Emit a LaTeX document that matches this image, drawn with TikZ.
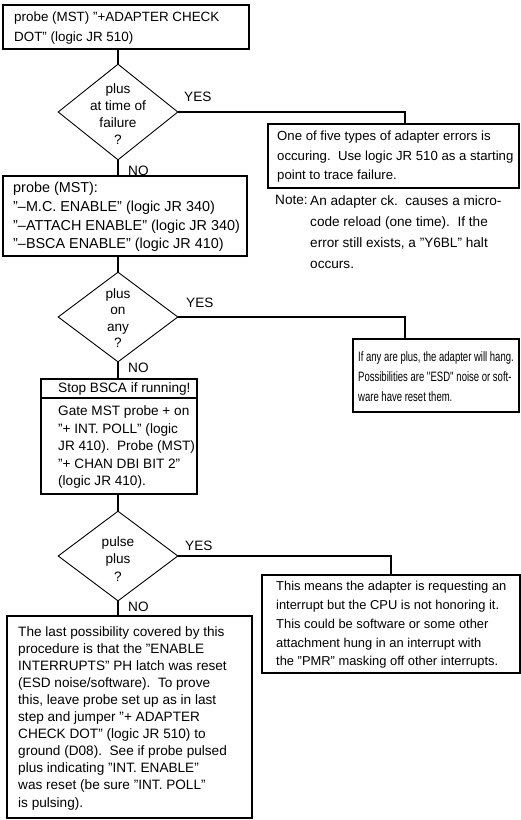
\documentclass[tikz,border=0pt]{standalone}
\usepackage{fontspec}
\setmainfont{Liberation Sans}
\newfontfamily\narrowsans[FakeStretch=0.7]{Liberation Sans}
\usetikzlibrary{shapes.geometric}
\begin{document}
\begin{tikzpicture}[x=1pt,y=-1pt,
  box/.style={draw, line width=1.3pt, inner sep=0pt},
  test/.style={diamond, draw, line width=0.9pt, inner sep=0pt},
  txt/.style={anchor=west, align=left, inner sep=0pt, font=\fontsize{13.6}{19.5}\selectfont},
  dtext/.style={align=center, inner sep=0pt, font=\fontsize{13.6}{17}\selectfont},
  lbl/.style={anchor=west, inner sep=0pt, font=\fontsize{13.6}{16}\selectfont},
  conn/.style={line width=2.8pt},
  yesline/.style={line width=2.2pt}]
\useasboundingbox[fill=white] (0,0) rectangle (521,820);

% first probe step
\node[box, minimum width=246pt, minimum height=44pt] (b1) at (126,27) {};
\node[txt, font=\fontsize{13.4}{19.5}\selectfont] (t1) at (14,28) {probe (MST) ''+ADAPTER CHECK\\DOT'' (logic JR 510)};

% decision 1
\node[test, minimum width=120pt, minimum height=96pt] (d1) at (118,112) {};
\node[dtext] (q1) at (118,114) {plus\\at time of\\failure\\?};
\draw[conn] (d1.north |- b1.south) -- (d1.north);
\node[lbl] (yes1) at (184,97) {YES};

% adapter error result and note
\node[box, minimum width=251pt, minimum height=64pt] (b3) at (393.5,156) {};
\node[txt, font=\fontsize{13.2}{19.5}\selectfont] (t3) at (277,157) {One of five types of adapter errors is\\occuring.\ \ Use logic JR 510 as a starting\\point to trace failure.};
\draw[yesline] (d1.east) -| ([xshift=11.5pt]b3.north);
\node[anchor=north west, inner sep=0pt, font=\fontsize{13.6}{21}\selectfont] (nl) at (275,195) {Note:};
\node[anchor=north west, align=left, inner sep=0pt, font=\fontsize{13.6}{21}\selectfont] (nb) at (310,195)
  {An adapter ck.\ \ causes a micro-\\code reload (one time).\ \ If the\\error still exists, a ''Y6BL'' halt\\occurs.};

% second probe step
\node[lbl] (no1) at (128,171) {NO};
\node[box, minimum width=244pt, minimum height=80pt] (b2) at (125,216) {};
\node[txt, font=\fontsize{14.4}{18.8}\selectfont] (t2) at (13,217) {probe (MST):\\''--M.C. ENABLE'' (logic JR 340)\\''--ATTACH ENABLE'' (logic JR 340)\\''--BSCA ENABLE'' (logic JR 410)};
\draw[conn] (d1.south) -- (d1.south |- b2.north);

% decision 2
\node[test, minimum width=120pt, minimum height=90pt] (d2) at (118,317) {};
\node[dtext, font=\fontsize{13.6}{16.5}\selectfont] (q2) at (118,318) {plus\\on\\any\\?};
\draw[conn] (d2.north |- b2.south) -- (d2.north);
\node[lbl] (yes2) at (186,303) {YES};

% hang result
\node[box, minimum width=166pt, minimum height=73pt] (b4) at (436,375.5) {};
\node[txt, font=\narrowsans\fontsize{13.6}{20}\selectfont] (t4) at (358,377) {If any are plus, the adapter will hang.\\Possibilities are ''ESD'' noise or soft-\\ware have reset them.};
\draw[yesline] (d2.east) -| ([xshift=-31pt]b4.north);

% BSCA step
\node[lbl] (no2) at (128,368) {NO};
\node[box, minimum width=156pt, minimum height=19pt] (b5a) at (119,388.5) {};
\node[txt] (t5a) at (58,389) {Stop BSCA if running!};
\node[box, minimum width=156pt, minimum height=96pt] (b5b) at (119,446) {};
\node[txt, font=\fontsize{13.6}{17.5}\selectfont] (t5b) at (58,447) {Gate MST probe + on\\''+ INT. POLL'' (logic\\JR 410).\ \ Probe (MST)\\''+ CHAN DBI BIT 2''\\(logic JR 410).};
\draw[conn] (d2.south) -- (d2.south |- b5a.north);

% decision 3
\node[test, minimum width=120pt, minimum height=90pt] (d3) at (118,556) {};
\node[dtext, font=\fontsize{13.6}{17.5}\selectfont] (q3) at (118,559) {pulse\\plus\\?};
\draw[conn] (d3.north |- b5b.south) -- (d3.north);
\node[lbl] (yes3) at (185,546) {YES};

% interrupt result
\node[box, minimum width=258pt, minimum height=98pt] (b7) at (391,624) {};
\node[txt, font=\fontsize{12.9}{18.8}\selectfont] (t7) at (276,625) {This means the adapter is requesting an\\interrupt but the CPU is not honoring it.\\This could be software or some other\\attachment hung in an interrupt with\\the ''PMR'' masking off other interrupts.};
\draw[yesline] (d3.east) -| (b7.north);

% final step
\node[lbl] (no3) at (128,607) {NO};
\node[box, minimum width=245pt, minimum height=202pt] (b6) at (129.5,717) {};
\node[txt, font=\fontsize{13.6}{17.1}\selectfont] (t6) at (18,718) {The last possibility covered by this\\procedure is that the ''ENABLE\\INTERRUPTS'' PH latch was reset\\(ESD noise/software).\ \ To prove\\this, leave probe set up as in last\\step and jumper ''+ ADAPTER\\CHECK DOT'' (logic JR 510) to\\ground (D08).\ \ See if probe pulsed\\plus indicating ''INT. ENABLE''\\was reset (be sure ''INT. POLL''\\is pulsing).};
\draw[conn] (d3.south) -- (d3.south |- b6.north);
\end{tikzpicture}
\end{document}
